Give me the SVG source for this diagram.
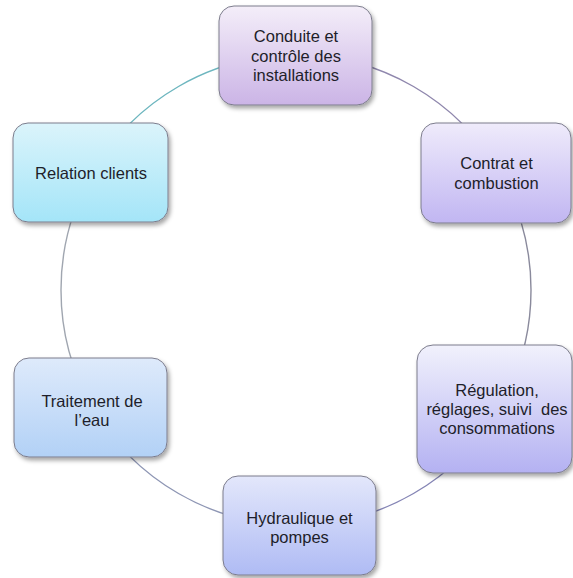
<svg xmlns="http://www.w3.org/2000/svg" width="573" height="578" viewBox="0 0 573 578">
<defs>
<linearGradient id="gTop" x1="0" y1="0" x2="0" y2="1"><stop offset="0" stop-color="#f4eef9"/><stop offset="1" stop-color="#cbb4e6"/></linearGradient>
<linearGradient id="gCon" x1="0" y1="0" x2="0" y2="1"><stop offset="0" stop-color="#efebfb"/><stop offset="1" stop-color="#c1b6f2"/></linearGradient>
<linearGradient id="gReg" x1="0" y1="0" x2="0" y2="1"><stop offset="0" stop-color="#f1f1fc"/><stop offset="1" stop-color="#b4b1f2"/></linearGradient>
<linearGradient id="gHyd" x1="0" y1="0" x2="0" y2="1"><stop offset="0" stop-color="#e3e7fb"/><stop offset="1" stop-color="#afbbf4"/></linearGradient>
<linearGradient id="gTra" x1="0" y1="0" x2="0" y2="1"><stop offset="0" stop-color="#deeafb"/><stop offset="1" stop-color="#b2d1f6"/></linearGradient>
<linearGradient id="gRel" x1="0" y1="0" x2="0" y2="1"><stop offset="0" stop-color="#dbf4fb"/><stop offset="1" stop-color="#a4e5f8"/></linearGradient>
<filter id="sh" x="-10%" y="-10%" width="125%" height="130%"><feDropShadow dx="2" dy="3" stdDeviation="2" flood-color="#000" flood-opacity="0.35"/></filter>
</defs>
<style>
.box{stroke:#7c7c8c;stroke-width:1;filter:url(#sh)}
.lbl{font-family:"Liberation Sans",Arial,sans-serif;font-size:16.5px;fill:#1e1e2a;text-anchor:middle}
.arc{fill:none;stroke-width:1.4}
</style>
<rect width="573" height="578" fill="#ffffff"/>
<g id="connectors">
<path class="arc" stroke="#8f87ad" d="M296,55 A235,235 0 0 1 499.52,172.5"/>
<path class="arc" stroke="#8a8a9c" d="M499.52,172.5 A235,235 0 0 1 499.52,407.5"/>
<path class="arc" stroke="#8585b5" d="M499.52,407.5 A235,235 0 0 1 296,525"/>
<path class="arc" stroke="#8e96b4" d="M296,525 A235,235 0 0 1 92.48,407.5"/>
<path class="arc" stroke="#a0a6b0" d="M92.48,407.5 A235,235 0 0 1 92.48,172.5"/>
<path class="arc" stroke="#6db6bf" d="M92.48,172.5 A235,235 0 0 1 296,55"/>
</g>
<g id="conduite">
<rect class="box" x="219" y="6" width="153" height="99" rx="15" fill="url(#gTop)"/>
<text class="lbl" x="296" y="42">Conduite et</text>
<text class="lbl" x="296" y="61.5">contrôle des</text>
<text class="lbl" x="296" y="81">installations</text>
</g>
<g id="contrat">
<rect class="box" x="421" y="123" width="150" height="100" rx="15" fill="url(#gCon)"/>
<text class="lbl" x="496.5" y="169">Contrat et</text>
<text class="lbl" x="496.5" y="188.5">combustion</text>
</g>
<g id="regulation">
<rect class="box" x="417" y="345" width="155" height="128" rx="16" fill="url(#gReg)"/>
<text class="lbl" x="497" y="396">Régulation,</text>
<text class="lbl" x="497" y="415" xml:space="preserve">réglages, suivi  des</text>
<text class="lbl" x="497" y="434">consommations</text>
</g>
<g id="hydraulique">
<rect class="box" x="223" y="476" width="153" height="99" rx="15" fill="url(#gHyd)"/>
<text class="lbl" x="299.5" y="524">Hydraulique et</text>
<text class="lbl" x="299.5" y="543">pompes</text>
</g>
<g id="traitement">
<rect class="box" x="14" y="358" width="153" height="99" rx="15" fill="url(#gTra)"/>
<text class="lbl" x="92" y="407">Traitement de</text>
<text class="lbl" x="92" y="426">l’eau</text>
</g>
<g id="relation">
<rect class="box" x="13" y="123" width="155" height="99" rx="15" fill="url(#gRel)"/>
<text class="lbl" x="91" y="178.5">Relation clients</text>
</g>
</svg>
